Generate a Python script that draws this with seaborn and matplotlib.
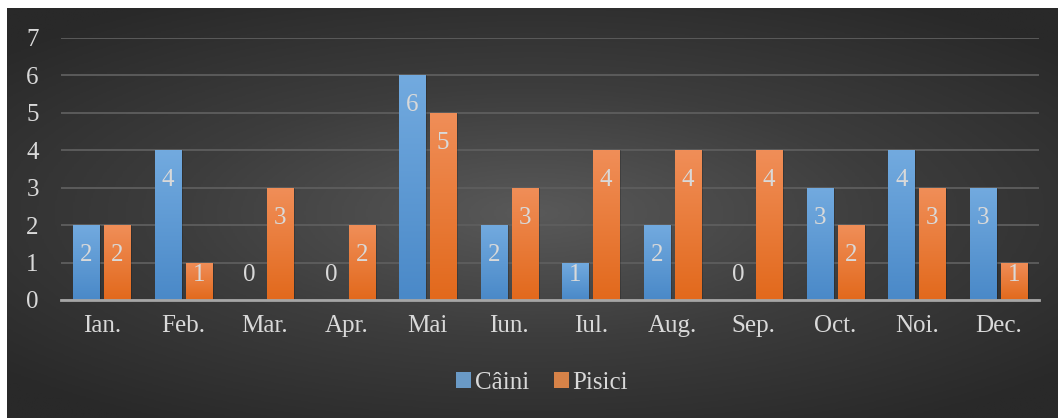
"""
Câini / Pisici pe luni - grafic cu bare grupate
"""
import numpy as np
import pandas as pd
import matplotlib
matplotlib.use("Agg")
import matplotlib.pyplot as plt
from matplotlib.colors import LinearSegmentedColormap
import seaborn as sns

MONTHS = ["Ian.", "Feb.", "Mar.", "Apr.", "Mai", "Iun.", "Iul.", "Aug.", "Sep.", "Oct.", "Noi.", "Dec."]
CAINI = [2, 4, 0, 0, 6, 2, 1, 2, 0, 3, 4, 3]
PISICI = [2, 1, 3, 2, 5, 3, 4, 4, 4, 2, 3, 1]
SERIES = ["Câini", "Pisici"]
COLORS = {"Câini": "#5b9bd5", "Pisici": "#ed7d31"}
GRADS = {"Câini": ("#72aadf", "#4a89c8"), "Pisici": ("#f08e58", "#e2691c")}
TEXT = "#d9d9d9"
FS = 18

sns.set_style("white")
plt.rcParams["font.family"] = ["Liberation Serif", "DejaVu Serif"]

df = pd.DataFrame({
    "luna": MONTHS * 2,
    "serie": [SERIES[0]] * len(MONTHS) + [SERIES[1]] * len(MONTHS),
    "valoare": CAINI + PISICI,
})

fig = plt.figure(figsize=(10.58, 4.18), dpi=100)
fig.patch.set_facecolor("white")

# --- fundal cu gradient radial ---
bg = fig.add_axes([7 / 1058, 0, 1 - 7 / 1058, 410 / 418])
bg.set_axis_off()
yy, xx = np.mgrid[-1:1:300j, -1:1:600j]
r = np.sqrt(xx ** 2 + (yy / 0.9) ** 2)
r = np.clip(r / 1.35, 0, 1)
bg_cmap = LinearSegmentedColormap.from_list("bg", ["#595959", "#3d3d3d", "#292929"])
bg.imshow(r, cmap=bg_cmap, aspect="auto", extent=[0, 1, 0, 1], vmin=0, vmax=1)
bg.set_xlim(0, 1)
bg.set_ylim(0, 1)

# --- grafic ---
ax = fig.add_axes([61 / 1058, 118 / 418, 978 / 1058, 262 / 418])
ax.patch.set_alpha(0)
sns.barplot(data=df, x="luna", y="valoare", hue="serie", palette=COLORS,
            width=0.76, gap=0.16, linewidth=0, ax=ax, legend=True, zorder=3)

ax.set_yticks(range(0, 8))
ax.yaxis.grid(True, color="#5e5e5e", linewidth=1.3, zorder=0)
ax.set_axisbelow(True)
for s in ["top", "right", "left"]:
    ax.spines[s].set_visible(False)
ax.spines["bottom"].set_color("#a6a6a6")
ax.spines["bottom"].set_linewidth(2)
ax.spines["bottom"].set_zorder(5)
ax.tick_params(axis="y", length=0, pad=16, labelsize=FS, labelcolor=TEXT)
ax.tick_params(axis="x", length=0, pad=11, labelsize=FS, labelcolor=TEXT)
ax.set_xlabel("")
ax.set_ylabel("")

# gradient pe bare + etichete (in interior, la capat; jos daca bara e scurta)
vals = {"Câini": CAINI, "Pisici": PISICI}
for cont, name in zip(ax.containers, SERIES):
    top_c, bot_c = GRADS[name]
    cm = LinearSegmentedColormap.from_list(name, [bot_c, top_c])
    grad = np.linspace(0, 1, 100).reshape(-1, 1)
    for bar, v in zip(cont.patches, vals[name]):
        x0, w, h = bar.get_x(), bar.get_width(), bar.get_height()
        # umbra discreta
        ax.bar(x0 + w / 2 + 0.025, h, width=w, bottom=0, color="black", alpha=0.18,
               linewidth=0, zorder=2.9)
        if h > 0:
            im = ax.imshow(grad, cmap=cm, origin="lower", aspect="auto",
                           extent=[x0, x0 + w, 0, h], zorder=3.5)
            im.set_clip_path(bar)
        ylab = max(h - 0.80, 0.67)
        ax.text(x0 + w / 2, ylab, str(v), ha="center", va="center",
                fontsize=FS, color=TEXT, zorder=6)
ax.set_xlim(-0.5, 11.5)
ax.set_ylim(0, 7)

leg = ax.legend(loc="center", bbox_to_anchor=(481 / 978, -83 / 262), ncol=2, frameon=False,
                fontsize=FS, handlelength=0.6, handleheight=0.6, handletextpad=0.15,
                columnspacing=1.0, labelcolor=TEXT)

fig.savefig("out.png", dpi=100)
